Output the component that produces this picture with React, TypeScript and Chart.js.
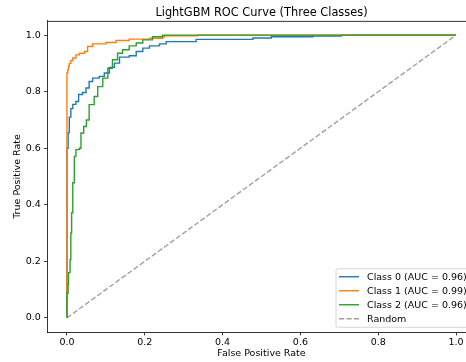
import React, { useEffect, useRef } from "react";
import { Chart, registerables } from "chart.js";

Chart.register(...registerables);

const titleText = "LightGBM ROC Curve (Three Classes)";
const xTitle = "False Positive Rate";
const yTitle = "True Positive Rate";
const tickValues = [0, 0.2, 0.4, 0.6, 0.8, 1.0];

const seriesLabels = [
  "Class 0 (AUC = 0.96)",
  "Class 1 (AUC = 0.99)",
  "Class 2 (AUC = 0.96)",
  "Random",
];

const class0Fpr = [0, 0, 0.003, 0.006, 0.01, 0.015, 0.023, 0.03, 0.04, 0.049, 0.057, 0.066, 0.083, 0.096, 0.109, 0.122, 0.135, 0.16, 0.178, 0.195, 0.212, 0.238, 0.255, 0.332, 0.478, 0.525, 0.632, 0.705, 1];
const class0Tpr = [0, 0.6, 0.655, 0.71, 0.74, 0.755, 0.765, 0.79, 0.797, 0.813, 0.836, 0.848, 0.854, 0.866, 0.886, 0.901, 0.922, 0.927, 0.942, 0.954, 0.962, 0.969, 0.977, 0.985, 0.99, 0.994, 0.997, 1.0, 1.0];

const class1Fpr = [0, 0, 0.002, 0.004, 0.006, 0.01, 0.015, 0.023, 0.032, 0.045, 0.053, 0.066, 0.1, 0.126, 0.16, 0.212, 0.246, 0.25, 0.336, 1];
const class1Tpr = [0, 0.866, 0.877, 0.89, 0.9, 0.91, 0.919, 0.93, 0.936, 0.942, 0.96, 0.969, 0.974, 0.981, 0.986, 0.989, 0.993, 0.998, 1.0, 1.0];

const class2Fpr = [0, 0, 0.003, 0.004, 0.008, 0.01, 0.012, 0.015, 0.019, 0.023, 0.032, 0.036, 0.043, 0.05, 0.057, 0.07, 0.079, 0.092, 0.105, 0.117, 0.13, 0.143, 0.16, 0.178, 0.195, 0.22, 0.246, 1];
const class2Tpr = [0, 0.088, 0.12, 0.16, 0.206, 0.3, 0.372, 0.478, 0.571, 0.595, 0.6, 0.654, 0.677, 0.7, 0.754, 0.783, 0.818, 0.848, 0.883, 0.913, 0.936, 0.948, 0.962, 0.972, 0.983, 0.994, 1.0, 1.0];

const randomFpr = [0, 1];
const randomTpr = [0, 1];

const colors = ["#1f77b4", "#ff7f0e", "#2ca02c", "rgba(128,128,128,0.75)"];

const toPoints = (xs: number[], ys: number[]) => xs.map((x, i) => ({ x, y: ys[i] }));

const FONT = "DejaVu Sans";

const framePlugin = {
  id: "frame",
  afterDraw(chart: any) {
    const { ctx, chartArea } = chart;
    ctx.save();
    ctx.strokeStyle = "#000";
    ctx.lineWidth = 0.8;
    ctx.beginPath();
    ctx.moveTo(chartArea.left, chartArea.top + 0.4);
    ctx.lineTo(chartArea.right, chartArea.top + 0.4);
    ctx.lineTo(chartArea.right, chartArea.bottom);
    ctx.stroke();
    ctx.restore();
  },
};

const legendPlugin = {
  id: "mplLegend",
  afterDraw(chart: any) {
    const { ctx, chartArea } = chart;
    const ds = chart.data.datasets;
    ctx.save();
    ctx.font = `9.5px "${FONT}"`;
    let maxW = 0;
    ds.forEach((d: any) => {
      maxW = Math.max(maxW, ctx.measureText(d.label).width);
    });
    const rowH = 14;
    const right = chartArea.right - 4.75;
    const bottom = chartArea.bottom - 4.75;
    const height = ds.length * rowH + 2.5;
    const width = 31 + maxW + 4;
    const left = right - width;
    const top = bottom - height;
    ctx.fillStyle = "rgba(255,255,255,0.8)";
    ctx.strokeStyle = "#cccccc";
    ctx.lineWidth = 0.8;
    ctx.beginPath();
    (ctx as any).roundRect(left, top, width, height, 2);
    ctx.fill();
    ctx.stroke();
    ds.forEach((d: any, i: number) => {
      const cy = top + 8 + i * rowH;
      ctx.strokeStyle = d.borderColor;
      ctx.lineWidth = d.borderWidth;
      ctx.setLineDash(d.borderDash || []);
      ctx.beginPath();
      ctx.moveTo(left + 3, cy);
      ctx.lineTo(left + 23, cy);
      ctx.stroke();
      ctx.setLineDash([]);
      ctx.fillStyle = "#000";
      ctx.textBaseline = "middle";
      ctx.textAlign = "left";
      ctx.fillText(d.label, left + 31, cy + 0.5);
    });
    ctx.restore();
  },
};

export default function App() {
  const ref = useRef<HTMLCanvasElement | null>(null);

  useEffect(() => {
    if (!ref.current) return;
    Chart.defaults.font.family = FONT;
    const mk = (i: number, xs: number[], ys: number[], stepped: any, order: number, dash?: number[]) => ({
      label: seriesLabels[i],
      data: toPoints(xs, ys),
      borderColor: colors[i],
      backgroundColor: colors[i],
      borderWidth: 1.4,
      borderDash: dash,
      pointRadius: 0,
      pointHoverRadius: 0,
      fill: false,
      tension: 0,
      stepped,
      order,
    });
    const axisCommon = {
      type: "linear" as const,
      min: -0.05,
      max: 1.05,
      afterBuildTicks: (scale: any) => {
        scale.ticks = tickValues.map((v) => ({ value: v }));
      },
      grid: {
        drawOnChartArea: false,
        drawTicks: true,
        tickLength: 3.3,
        tickColor: "#000",
        tickWidth: 0.8,
      },
      border: { display: true, color: "#000", width: 0.8 },
    };
    const chart = new Chart(ref.current, {
      type: "line",
      data: {
        datasets: [
          mk(0, class0Fpr, class0Tpr, "before", 4),
          mk(1, class1Fpr, class1Tpr, "before", 3),
          mk(2, class2Fpr, class2Tpr, "before", 2),
          mk(3, randomFpr, randomTpr, false, 1, [5.2, 2.3]),
        ],
      },
      options: {
        animation: false,
        responsive: false,
        maintainAspectRatio: false,
        events: [],
        layout: { padding: { left: 0, right: 4.5, top: 0, bottom: 0 } },
        plugins: {
          legend: { display: false },
          tooltip: { enabled: false },
          title: {
            display: true,
            text: titleText,
            fullSize: false,
            color: "#000",
            font: { family: FONT, size: 11.4, weight: "normal" },
            padding: { top: 5.8, bottom: 1.5 },
          },
        },
        scales: {
          x: {
            ...axisCommon,
            position: "bottom",
            afterFit: (scale: any) => {
              scale.height = 30;
            },
            ticks: {
              color: "#000",
              font: { family: FONT, size: 9.5 },
              padding: 2,
              maxRotation: 0,
              autoSkip: false,
              callback: (v: any) => Number(v).toFixed(1),
            },
            title: {
              display: true,
              text: xTitle,
              color: "#000",
              font: { family: FONT, size: 9.5 },
              padding: { top: 0, bottom: 3 },
            },
          },
          y: {
            ...axisCommon,
            position: "left",
            afterFit: (scale: any) => {
              scale.width = 47.5;
            },
            ticks: {
              color: "#000",
              font: { family: FONT, size: 9.5 },
              padding: 3.3,
              autoSkip: false,
              callback: (v: any) => Number(v).toFixed(1),
            },
            title: {
              display: true,
              text: yTitle,
              color: "#000",
              font: { family: FONT, size: 9.5 },
              padding: { top: 12, bottom: 0 },
            },
          },
        },
      } as any,
      plugins: [framePlugin, legendPlugin],
    });
    return () => chart.destroy();
  }, []);

  return (
    <div style={{ position: "absolute", left: 0, top: 0, width: 466, height: 362, overflow: "hidden", background: "#fff" }}>
      <canvas ref={ref} width={480} height={362} style={{ display: "block", width: 480, height: 362 }} />
    </div>
  );
}
